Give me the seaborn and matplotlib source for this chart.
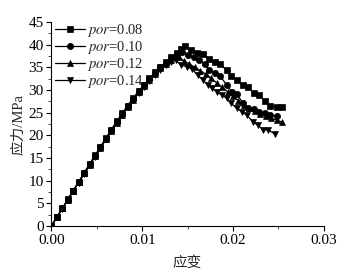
import matplotlib
matplotlib.use('Agg')
import matplotlib.pyplot as plt
import pandas as pd
import seaborn as sns
from matplotlib.ticker import MultipleLocator

# 数据 (应变, 应力/MPa)
labels = ['$\\mathit{por}$=0.08', '$\\mathit{por}$=0.10', '$\\mathit{por}$=0.12', '$\\mathit{por}$=0.14']
marker_list = ['s', 'o', '^', 'v']

s08_x = [0.0000, 0.0006, 0.0012, 0.0018, 0.0024, 0.0030, 0.0036, 0.0042, 0.0048, 0.0054, 0.0060, 0.0066,
         0.0072, 0.0078, 0.0084, 0.0090, 0.0096, 0.0102, 0.0108, 0.0114, 0.0120, 0.0126, 0.0132, 0.0138,
         0.0143, 0.0147, 0.0154, 0.0160, 0.0167, 0.0174, 0.0180, 0.0186, 0.0193, 0.0198, 0.0204, 0.0211,
         0.0217, 0.0223, 0.0229, 0.0235, 0.0241, 0.0248, 0.0254]
s08_y = [0.0, 2.0, 3.9, 5.9, 7.8, 9.8, 11.7, 13.7, 15.6, 17.5, 19.4, 21.3, 23.1, 24.9, 26.6, 28.2, 29.8,
         31.2, 32.6, 33.9, 35.1, 36.2, 37.3, 38.3, 39.1, 39.8, 38.9, 38.3, 37.9, 36.8, 36.3, 35.7, 34.4,
         33.2, 32.2, 31.1, 30.6, 29.4, 28.9, 27.6, 26.6, 26.2, 26.2]

s10_x = [0.0000, 0.0006, 0.0012, 0.0018, 0.0024, 0.0030, 0.0036, 0.0042, 0.0048, 0.0054, 0.0060, 0.0066,
         0.0072, 0.0078, 0.0084, 0.0090, 0.0096, 0.0102, 0.0108, 0.0114, 0.0120, 0.0126, 0.0132, 0.0138,
         0.0144, 0.0150, 0.0157, 0.0162, 0.0169, 0.0174, 0.0180, 0.0186, 0.0193, 0.0199, 0.0204, 0.0211,
         0.0217, 0.0223, 0.0229, 0.0235, 0.0241, 0.0248]
s10_y = [0.0, 2.0, 3.9, 5.8, 7.8, 9.7, 11.6, 13.6, 15.5, 17.4, 19.3, 21.2, 23.0, 24.8, 26.5, 28.1, 29.7,
         31.1, 32.5, 33.8, 35.0, 36.0, 37.0, 37.9, 38.5, 37.7, 37.4, 36.6, 35.7, 34.4, 33.7, 33.1, 31.1,
         29.6, 29.1, 27.2, 26.0, 25.8, 25.2, 24.9, 24.5, 24.3]

s12_x = [0.0000, 0.0006, 0.0012, 0.0018, 0.0024, 0.0030, 0.0036, 0.0042, 0.0048, 0.0054, 0.0060, 0.0066,
         0.0072, 0.0078, 0.0084, 0.0090, 0.0096, 0.0102, 0.0108, 0.0114, 0.0120, 0.0126, 0.0132, 0.0140,
         0.0146, 0.0152, 0.0158, 0.0164, 0.0170, 0.0176, 0.0182, 0.0188, 0.0194, 0.0200, 0.0206, 0.0212,
         0.0218, 0.0224, 0.0230, 0.0236, 0.0242, 0.0248, 0.0254]
s12_y = [0.0, 1.9, 3.9, 5.8, 7.7, 9.7, 11.6, 13.5, 15.4, 17.3, 19.2, 21.0, 22.8, 24.6, 26.3, 27.9, 29.5,
         30.9, 32.3, 33.6, 34.8, 35.8, 36.7, 37.4, 36.4, 35.8, 35.0, 34.3, 33.5, 32.6, 31.6, 30.6, 29.6,
         28.6, 27.7, 26.8, 26.0, 25.3, 24.7, 24.2, 23.8, 23.4, 22.9]

s14_x = [0.0000, 0.0006, 0.0012, 0.0018, 0.0024, 0.0030, 0.0036, 0.0042, 0.0048, 0.0054, 0.0060, 0.0066,
         0.0072, 0.0078, 0.0084, 0.0090, 0.0096, 0.0102, 0.0108, 0.0114, 0.0120, 0.0126, 0.0132, 0.0137,
         0.0143, 0.0149, 0.0155, 0.0161, 0.0167, 0.0172, 0.0177, 0.0182, 0.0188, 0.0193, 0.0198, 0.0204,
         0.0210, 0.0215, 0.0222, 0.0227, 0.0233, 0.0239, 0.0246]
s14_y = [0.0, 1.9, 3.8, 5.8, 7.7, 9.6, 11.5, 13.4, 15.3, 17.2, 19.1, 20.9, 22.7, 24.5, 26.2, 27.8, 29.3,
         30.7, 32.1, 33.4, 34.5, 35.5, 36.2, 36.6, 35.5, 35.2, 34.6, 33.3, 32.2, 31.1, 30.4, 29.6, 28.9,
         28.2, 27.1, 26.0, 25.2, 24.5, 23.0, 22.3, 21.3, 21.2, 20.3]

series = [(s08_x, s08_y), (s10_x, s10_y), (s12_x, s12_y), (s14_x, s14_y)]

sns.set_style('ticks')
plt.rcParams['font.family'] = ['Liberation Serif', 'Noto Sans CJK SC']
plt.rcParams['mathtext.fontset'] = 'stix'

fig = plt.figure(figsize=(3.52, 2.77), dpi=100)
ax = fig.add_axes([0.146, 0.184, 0.774, 0.736])

for (xs, ys), lab, mk in zip(series, labels, marker_list):
    df = pd.DataFrame({'strain': xs, 'stress': ys})
    sns.lineplot(data=df, x='strain', y='stress', sort=False, ax=ax, color='black', lw=0.9,
                 marker=mk, markersize=4.5, markeredgecolor='black', markeredgewidth=0.5, label=lab)

ax.set_xlim(0, 0.03)
ax.set_ylim(0, 45)
ax.xaxis.set_major_locator(MultipleLocator(0.01))
ax.xaxis.set_minor_locator(MultipleLocator(0.005))
ax.yaxis.set_major_locator(MultipleLocator(5))
ax.yaxis.set_minor_locator(MultipleLocator(2.5))
ax.xaxis.set_major_formatter(matplotlib.ticker.FormatStrFormatter('%.2f'))
ax.tick_params(which='major', direction='out', length=3.5, width=0.8, labelsize=11, colors='black', pad=2)
ax.tick_params(which='minor', direction='out', length=2, width=0.6)
for sp in ['top', 'right']:
    ax.spines[sp].set_visible(False)
for sp in ['left', 'bottom']:
    ax.spines[sp].set_color('black')
    ax.spines[sp].set_linewidth(0.8)

ax.set_xlabel('应变', fontsize=10.5, labelpad=7)
ax.set_ylabel('应力/MPa', fontsize=10.5, labelpad=2)

ax.legend(loc='upper left', frameon=False, fontsize=10.5, handlelength=2.1, handletextpad=0.15,
          labelspacing=0.0, borderaxespad=0.0, bbox_to_anchor=(-0.01, 1.03), numpoints=1)

fig.savefig('out.png', dpi=100)
